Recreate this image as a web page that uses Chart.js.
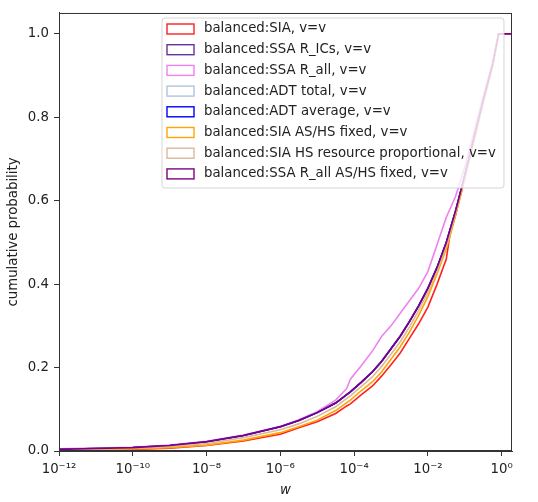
<!DOCTYPE html>
<html>
<head>
<meta charset="utf-8">
<script src="https://cdn.jsdelivr.net/npm/chart.js@4.4.1/dist/chart.umd.min.js"></script>
<style>
  html, body { margin: 0; padding: 0; background: #fff; }
  canvas { display: block; }
</style>
</head>
<body>
<canvas id="cdf" width="538" height="502"></canvas>
<script>
// w grid (log spaced sample points)
var w = [1e-12, 1e-11, 1e-10, 1e-9, 1e-8, 1e-7, 1e-6, 3.16e-6, 1e-5, 3.16e-5,
         6.31e-5, 7.94e-5, 1.58e-4, 3.16e-4, 5.62e-4, 1e-3, 1.78e-3, 3.16e-3, 5.62e-3, 1e-2,
         1.78e-2, 3.16e-2, 3.98e-2, 5.62e-2, 0.1, 0.178, 0.316, 0.562, 0.832, 1.95];

var sia        = [0.002, 0.003, 0.004, 0.007, 0.013, 0.024, 0.040, 0.056, 0.070, 0.090,
                  0.108, 0.113, 0.135, 0.156, 0.180, 0.207, 0.235, 0.270, 0.305, 0.345,
                  0.400, 0.460, 0.520, 0.565, 0.655, 0.745, 0.835, 0.920, 1.0, 1.0];
var ssaRICs    = [0.004, 0.006, 0.008, 0.013, 0.022, 0.037, 0.058, 0.073, 0.092, 0.115,
                  0.135, 0.142, 0.165, 0.190, 0.215, 0.245, 0.275, 0.310, 0.348, 0.390,
                  0.440, 0.500, 0.530, 0.575, 0.660, 0.750, 0.840, 0.925, 1.0, 1.0];
var ssaRall    = [0.005, 0.007, 0.009, 0.014, 0.023, 0.038, 0.059, 0.075, 0.094, 0.122,
                  0.150, 0.172, 0.205, 0.240, 0.275, 0.300, 0.330, 0.360, 0.390, 0.430,
                  0.495, 0.560, 0.580, 0.610, 0.680, 0.765, 0.850, 0.930, 1.0, 1.0];
var adtTotal   = [0.004, 0.006, 0.008, 0.013, 0.022, 0.037, 0.058, 0.073, 0.092, 0.115,
                  0.135, 0.142, 0.165, 0.190, 0.215, 0.245, 0.275, 0.310, 0.348, 0.390,
                  0.440, 0.500, 0.530, 0.575, 0.660, 0.750, 0.840, 0.925, 1.0, 1.0];
var adtAverage = [0.004, 0.006, 0.008, 0.013, 0.022, 0.037, 0.058, 0.073, 0.092, 0.115,
                  0.135, 0.142, 0.165, 0.190, 0.215, 0.245, 0.275, 0.310, 0.348, 0.390,
                  0.440, 0.500, 0.530, 0.575, 0.660, 0.750, 0.840, 0.925, 1.0, 1.0];
var siaFixed   = [0.002, 0.003, 0.005, 0.008, 0.014, 0.026, 0.044, 0.058, 0.074, 0.097,
                  0.116, 0.122, 0.145, 0.166, 0.190, 0.220, 0.250, 0.285, 0.325, 0.370,
                  0.425, 0.485, 0.515, 0.565, 0.650, 0.745, 0.835, 0.920, 1.0, 1.0];
var siaHsProp  = [0.003, 0.005, 0.007, 0.011, 0.018, 0.032, 0.051, 0.065, 0.083, 0.106,
                  0.126, 0.132, 0.155, 0.178, 0.203, 0.232, 0.262, 0.297, 0.337, 0.380,
                  0.432, 0.492, 0.522, 0.570, 0.655, 0.748, 0.838, 0.922, 1.0, 1.0];
var ssaRallFixed = [0.004, 0.006, 0.008, 0.013, 0.022, 0.037, 0.058, 0.073, 0.092, 0.115,
                  0.135, 0.142, 0.165, 0.190, 0.215, 0.245, 0.275, 0.310, 0.348, 0.390,
                  0.440, 0.500, 0.530, 0.575, 0.660, 0.750, 0.840, 0.925, 1.0, 1.0];

var labels = ['balanced:SIA, v=v', 'balanced:SSA R_ICs, v=v', 'balanced:SSA R_all, v=v',
              'balanced:ADT total, v=v', 'balanced:ADT average, v=v', 'balanced:SIA AS/HS fixed, v=v',
              'balanced:SIA HS resource proportional, v=v', 'balanced:SSA R_all AS/HS fixed, v=v'];
var series = [sia, ssaRICs, ssaRall, adtTotal, adtAverage, siaFixed, siaHsProp, ssaRallFixed];
var colors = ['#ff2020', '#663399', '#ee82ee', '#b0c4de', '#0000ff', '#ffa500', '#dbb998', '#800080'];

var xTickValues = [1e-12, 1e-10, 1e-8, 1e-6, 1e-4, 1e-2, 1];
var xTickLabels = ['10⁻¹²', '10⁻¹⁰', '10⁻⁸', '10⁻⁶', '10⁻⁴', '10⁻²', '10⁰'];
var yTickValues = [0, 0.2, 0.4, 0.6, 0.8, 1.0];

var FONT = 'DejaVu Sans';

var datasets = series.map(function(s, i){
    return {
        label: labels[i],
        data: s.map(function(v, j){ return {x: w[j], y: v}; }),
        borderColor: colors[i],
        borderWidth: 1.6,
        pointRadius: 0,
        fill: false,
        tension: 0,
        order: series.length - 1 - i
    };
});

// top/right spines
var frame = {
    id: 'frame',
    afterDatasetsDraw: function(chart){
        var a = chart.chartArea, ctx = chart.ctx;
        ctx.save();
        ctx.strokeStyle = '#333';
        ctx.lineWidth = 1;
        ctx.strokeRect(a.left + 0.5, a.top + 0.5, a.right - a.left - 1, a.bottom - a.top - 1);
        ctx.restore();
    }
};

// legend in the upper right, matplotlib style
var boxLegend = {
    id: 'boxLegend',
    afterDraw: function(chart){
        var ctx = chart.ctx;
        var x0 = 162, y0 = 18, x1 = 504, y1 = 188, r = 3;
        ctx.save();
        ctx.beginPath();
        ctx.moveTo(x0 + r, y0);
        ctx.arcTo(x1, y0, x1, y1, r);
        ctx.arcTo(x1, y1, x0, y1, r);
        ctx.arcTo(x0, y1, x0, y0, r);
        ctx.arcTo(x0, y0, x1, y0, r);
        ctx.closePath();
        ctx.fillStyle = 'rgba(255,255,255,0.8)';
        ctx.fill();
        ctx.strokeStyle = 'rgba(204,204,204,0.8)';
        ctx.lineWidth = 1;
        ctx.stroke();

        ctx.font = '13.3px "' + FONT + '"';
        ctx.textBaseline = 'middle';
        ctx.fillStyle = '#222';
        chart.data.datasets.forEach(function(ds, i){
            var cy = 29 + i * 20.7;
            ctx.strokeStyle = ds.borderColor;
            ctx.lineWidth = 1.4;
            ctx.strokeRect(167, cy - 5, 27, 10);
            ctx.fillText(ds.label, 204, cy);
        });
        ctx.restore();
    }
};

new Chart(document.getElementById('cdf'), {
    type: 'line',
    data: { datasets: datasets },
    options: {
        responsive: false,
        devicePixelRatio: 1,
        animation: false,
        layout: { padding: { left: 0, top: 11, right: 26, bottom: 0 } },
        plugins: { legend: { display: false }, tooltip: { enabled: false } },
        scales: {
            x: {
                type: 'logarithmic',
                min: 1e-12,
                max: 1.91,
                afterBuildTicks: function(scale){
                    scale.ticks = xTickValues.map(function(v){ return {value: v}; });
                },
                afterFit: function(scale){ scale.height = 51; },
                ticks: {
                    autoSkip: false,
                    maxRotation: 0,
                    padding: 6,
                    color: '#222',
                    font: { family: FONT, size: 13.3 },
                    callback: function(v){
                        var k = xTickValues.indexOf(v);
                        return k >= 0 ? xTickLabels[k] : '';
                    }
                },
                grid: { drawOnChartArea: false, drawTicks: true, tickLength: 5, tickColor: '#333' },
                border: { color: '#333' },
                title: { display: true, text: 'w', color: '#222', padding: { top: 0, bottom: 3 },
                         font: { family: FONT, size: 13.3, style: 'italic' } }
            },
            y: {
                type: 'linear',
                min: 0,
                max: 1.05,
                afterBuildTicks: function(scale){
                    scale.ticks = yTickValues.map(function(v){ return {value: v}; });
                },
                afterFit: function(scale){ scale.width = 59; },
                ticks: {
                    padding: 5,
                    color: '#222',
                    font: { family: FONT, size: 13.3 },
                    callback: function(v){ return v.toFixed(1); }
                },
                grid: { drawOnChartArea: false, drawTicks: true, tickLength: 5, tickColor: '#333' },
                border: { color: '#333' },
                title: { display: true, text: 'cumulative probability', color: '#222',
                         padding: { top: 6, bottom: 0 }, font: { family: FONT, size: 13.3 } }
            }
        }
    },
    plugins: [frame, boxLegend]
});
</script>
</body>
</html>
